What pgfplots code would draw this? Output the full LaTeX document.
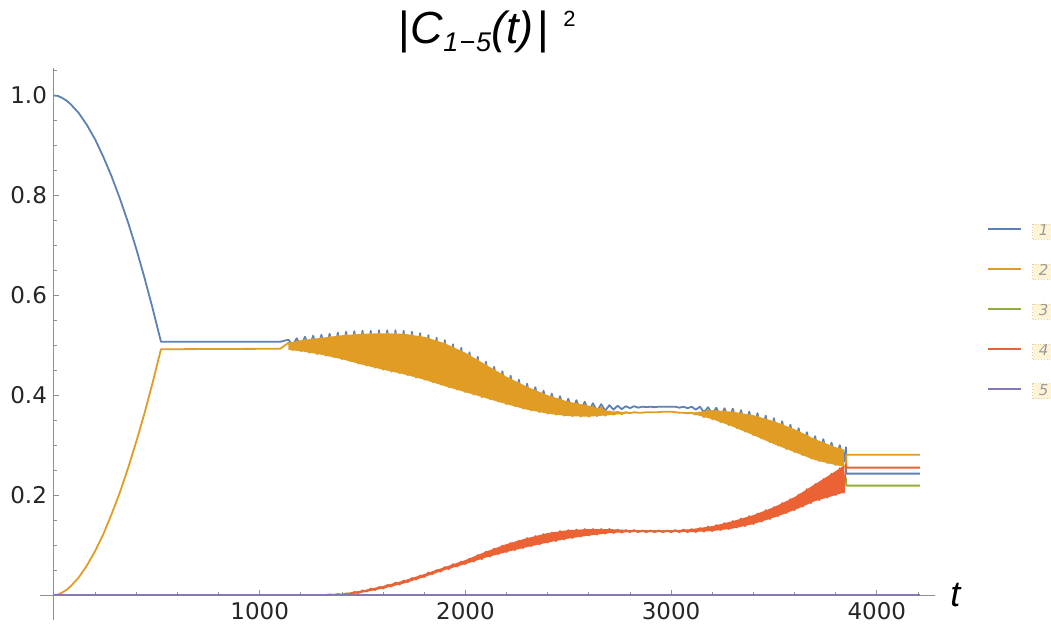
\documentclass[border=0pt]{standalone}
\usepackage{fontspec}
\setmainfont{DejaVu Sans}
\newfontfamily\titlefont{Liberation Sans}
\usepackage{pgfplots}
\pgfplotsset{compat=1.18}
\definecolor{c1}{HTML}{5E81B5}
\definecolor{c2}{HTML}{E19C24}
\definecolor{c3}{HTML}{8FB032}
\definecolor{c4}{HTML}{EB6235}
\definecolor{c5}{HTML}{8778B3}
\definecolor{axgray}{HTML}{8F8F8F}
\definecolor{legfill}{HTML}{FFF5D6}
\definecolor{legdraw}{HTML}{E2D197}
\definecolor{legtext}{HTML}{9A9A9A}
\newcommand\legbox[1]{\tikz[baseline=(b.center)]\node(b)[fill=legfill, draw=legdraw,
  densely dotted, line width=0.4pt, inner sep=0pt, minimum width=11pt, minimum height=7.5pt,
  font=\fontsize{7.5}{7.5}\selectfont\itshape, text=legtext]{#1};}

\begin{document}
\begin{tikzpicture}
\begin{axis}[
  scale only axis, width=447.7pt, height=276pt,
  xmin=-70, xmax=4283, ymin=-0.05, ymax=1.055,
  axis lines=middle,
  axis line style={-, draw=axgray, line width=0.5pt},
  xtick={1000,2000,3000,4000},
  minor xtick={200,400,...,4200},
  ytick={0.2,0.4,0.6,0.8,1.0},
  minor ytick={0.05,0.1,0.15,0.25,0.3,0.35,0.45,0.5,0.55,0.65,0.7,0.75,0.85,0.9,0.95,1.05},
  tick align=inside,
  major tick length=2.5pt, minor tick length=1.5pt,
  tick style={draw=axgray, line width=0.4pt},
  /pgf/number format/assume math mode=true,
  ticklabel style={font=\fontsize{11.5}{13}\selectfont, text=black!85},
  xticklabel style={/pgf/number format/1000 sep={}},
  yticklabel style={/pgf/number format/.cd, fixed, fixed zerofill, precision=1},
  title={\textbar\textit{C}\raisebox{-4pt}{\fontsize{13.5}{14}\selectfont\itshape 1\kern0.5pt−\kern0.5pt5}\textit{(t)}\kern2pt\textbar\kern7pt\raisebox{8.5pt}{\fontsize{11}{11}\selectfont 2}},
  title style={at={(0.5,1)}, anchor=base, yshift=6.5pt, font=\titlefont\fontsize{22.5}{25}\selectfont},
  xlabel={\textit{t}},
  xlabel style={at={(axis description cs:1.0235,0.0236)}, anchor=base, font=\titlefont\fontsize{18}{20}\selectfont},
  legend style={at={(axis description cs:1.0581,0.7183)}, anchor=north west, draw=none, fill=none,
    inner sep=0pt, row sep=14.5pt, nodes={inner sep=0pt}},
  legend cell align=left,
  legend image code/.code={\draw[#1] (0pt,0pt) -- (16.5pt,0pt); \path (21.5pt,0pt);},
  every axis plot/.append style={line width=0.9pt, line join=round, mark=none},
  clip=false,
]
% 1
\addplot[c1] coordinates {
(0,1.000) (20,0.999) (40,0.995) (60,0.990) (80,0.983) (120,0.965) (160,0.941) (200,0.912) (240,0.877) (280,0.838)
(320,0.794) (360,0.746) (400,0.693) (440,0.635) (480,0.573) (520,0.507) (1100,0.507)
(1140,.511) (1160,.500) (1180,.514) (1200,.498) (1220,.517) (1240,.495) (1260,.519) (1280,.492)
(1300,.521) (1320,.489) (1340,.523) (1360,.486) (1380,.525) (1400,.482) (1420,.527) (1440,.478)
(1460,.528) (1480,.473) (1500,.529) (1520,.469) (1540,.529) (1560,.465) (1580,.530) (1600,.461)
(1620,.530) (1640,.457) (1660,.530) (1680,.454) (1700,.529) (1720,.450) (1740,.527) (1760,.445)
(1780,.524) (1800,.441) (1820,.520) (1840,.436) (1860,.515) (1880,.431) (1900,.510) (1920,.426)
(1940,.502) (1960,.421) (1980,.495) (2000,.416) (2020,.486) (2040,.411) (2060,.477) (2080,.406)
(2100,.467) (2120,.402) (2140,.457) (2160,.397) (2180,.448) (2200,.392) (2220,.439) (2240,.388)
(2260,.431) (2280,.383) (2300,.423) (2320,.379) (2340,.416) (2360,.376) (2380,.409) (2400,.373)
(2420,.403) (2440,.371) (2460,.398) (2480,.369) (2500,.393) (2520,.368) (2540,.390) (2560,.367)
(2580,.387) (2600,.367) (2620,.384) (2640,.368) (2660,.382) (2680,.369) (2700,.380) (2720,.371)
(2740,.379) (2760,.372) (2780,.378) (2800,.374) (2820,.378) (2840,.375) (2860,.377) (2880,.376)
(2900,.377) (2920,.376) (2940,.377) (2960,.377) (2980,.377) (3000,.377) (3020,.377) (3040,.375)
(3060,.377) (3080,.374) (3100,.377) (3120,.371) (3140,.377) (3160,.366) (3180,.376) (3200,.362)
(3220,.375) (3240,.356) (3260,.374) (3280,.350) (3300,.373) (3320,.344) (3340,.370) (3360,.337)
(3380,.367) (3400,.330) (3420,.364) (3440,.323) (3460,.359) (3480,.316) (3500,.354) (3520,.309)
(3540,.348) (3560,.302) (3580,.341) (3600,.296) (3620,.334) (3640,.290) (3660,.326) (3680,.283)
(3700,.318) (3720,.278) (3740,.312) (3760,.274) (3780,.305) (3800,.270) (3820,.300) (3840,.267)
(3850,.296) (3852,.243) (4210,.243)
};
\addlegendentry{\legbox{1}}
% band body of 2
\addplot[forget plot, draw=none, fill=c2] coordinates {
(1140,.505) (1200,.510) (1300,.515) (1400,.520) (1500,.523) (1600,.524) (1700,.523) (1800,.517)
(1900,.504) (2000,.485) (2100,.461) (2200,.437) (2300,.417) (2400,.400) (2500,.387) (2600,.379)
(2700,.368) (2800,.366) (2900,.366) (3000,.367) (3100,.365) (3200,.370) (3300,.367) (3400,.360)
(3500,.348) (3600,.332) (3700,.312) (3800,.296) (3840,.291)
(3840,.257) (3800,.260) (3700,.270) (3600,.286) (3500,.302) (3400,.320) (3300,.337) (3200,.352)
(3100,.363) (3000,.367) (2900,.366) (2800,.364) (2700,.360) (2600,.357) (2500,.358) (2400,.363)
(2300,.371) (2200,.382) (2100,.394) (2000,.406) (1900,.418) (1800,.431) (1700,.442) (1600,.451)
(1500,.461) (1400,.472) (1300,.481) (1200,.488) (1140,.491)
} -- cycle;
% 2
\addplot[c2] coordinates {
(0,0.000) (20,0.001) (40,0.005) (60,0.010) (80,0.017) (120,0.035) (160,0.059) (200,0.088) (240,0.122) (280,0.162)
(320,0.205) (360,0.254) (400,0.307) (440,0.364) (480,0.426) (520,0.492) (1100,0.493)
(1140,.505) (1160,.490) (1180,.508) (1200,.488) (1220,.511) (1240,.485) (1260,.513) (1280,.482)
(1300,.515) (1320,.479) (1340,.517) (1360,.476) (1380,.519) (1400,.472) (1420,.521) (1440,.468)
(1460,.522) (1480,.463) (1500,.523) (1520,.459) (1540,.523) (1560,.455) (1580,.524) (1600,.451)
(1620,.524) (1640,.447) (1660,.524) (1680,.444) (1700,.523) (1720,.440) (1740,.521) (1760,.435)
(1780,.518) (1800,.431) (1820,.514) (1840,.426) (1860,.509) (1880,.421) (1900,.504) (1920,.416)
(1940,.496) (1960,.411) (1980,.489) (2000,.406) (2020,.480) (2040,.401) (2060,.471) (2080,.396)
(2100,.461) (2120,.392) (2140,.451) (2160,.387) (2180,.442) (2200,.382) (2220,.433) (2240,.378)
(2260,.425) (2280,.373) (2300,.417) (2320,.369) (2340,.410) (2360,.366) (2380,.403) (2400,.363)
(2420,.397) (2440,.361) (2460,.392) (2480,.359) (2500,.387) (2520,.358) (2540,.384) (2560,.357)
(2580,.381) (2600,.357) (2620,.378) (2640,.358) (2660,.376) (2680,.359) (2700,.368) (2720,.361)
(2740,.367) (2760,.362) (2780,.366) (2800,.364) (2820,.366) (2840,.365) (2860,.365) (2880,.366)
(2900,.366) (2920,.366) (2940,.366) (2960,.367) (2980,.367) (3000,.367) (3020,.366) (3040,.365)
(3060,.365) (3080,.364) (3100,.365) (3120,.361) (3140,.365) (3160,.356) (3180,.370) (3200,.352)
(3220,.369) (3240,.346) (3260,.368) (3280,.340) (3300,.367) (3320,.334) (3340,.364) (3360,.327)
(3380,.361) (3400,.320) (3420,.358) (3440,.313) (3460,.353) (3480,.306) (3500,.348) (3520,.299)
(3540,.342) (3560,.292) (3580,.335) (3600,.286) (3620,.328) (3640,.280) (3660,.320) (3680,.273)
(3700,.312) (3720,.268) (3740,.306) (3760,.264) (3780,.299) (3800,.260) (3820,.294) (3840,.257)
(3850,.256) (3852,.281) (4210,.281)
};
\addlegendentry{\legbox{2}}
% 3
\addplot[c3] coordinates {
(0,0) (1300,0) (1400,.001) (1500,.007) (1600,.016) (1700,.026) (1800,.039) (1900,.053)
(2000,.066) (2100,.081) (2200,.094) (2300,.105) (2400,.115) (2500,.122) (2600,.126) (2700,.128)
(2800,.128) (2900,.128) (3000,.128) (3100,.129) (3200,.133) (3300,.141) (3400,.151) (3500,.166)
(3600,.183) (3700,.205) (3800,.224) (3850,.234) (3852,.219) (4210,.219)
};
\addlegendentry{\legbox{3}}
% band body of 4
\addplot[forget plot, draw=none, fill=c4] coordinates {
(1300,0) (1400,.002) (1500,.009) (1600,.018) (1700,.029) (1800,.042) (1900,.056) (2000,.070)
(2100,.087) (2200,.102) (2300,.114) (2400,.124) (2500,.130) (2600,.132) (2700,.132) (2800,.130)
(2900,.129) (3000,.129) (3100,.132) (3200,.138) (3300,.148) (3400,.160) (3500,.176) (3600,.196)
(3700,.222) (3800,.248) (3840,.259)
(3840,.205) (3800,.200) (3700,.188) (3600,.170) (3500,.155) (3400,.142) (3300,.133) (3200,.128)
(3100,.126) (3000,.126) (2900,.126) (2800,.126) (2700,.124) (2600,.119) (2500,.113) (2400,.105)
(2300,.096) (2200,.086) (2100,.075) (2000,.062) (1900,.050) (1800,.036) (1700,.023) (1600,.013)
(1500,.005) (1400,0)
} -- cycle;
% 4
\addplot[c4] coordinates {
(0,0) (1300,0) (1320,0) (1340,.001) (1360,0) (1380,.002) (1400,0) (1420,.003) (1440,.002)
(1460,.006) (1480,.004) (1500,.009) (1520,.007) (1540,.013) (1560,.010) (1580,.016) (1600,.013)
(1620,.020) (1640,.017) (1660,.025) (1680,.021) (1700,.029) (1720,.026) (1740,.034) (1760,.031)
(1780,.039) (1800,.036) (1820,.045) (1840,.042) (1860,.050) (1880,.047) (1900,.056) (1920,.052)
(1940,.062) (1960,.057) (1980,.067) (2000,.062) (2020,.073) (2040,.067) (2060,.080) (2080,.072)
(2100,.087) (2120,.077) (2140,.093) (2160,.082) (2180,.099) (2200,.086) (2220,.104) (2240,.090)
(2260,.109) (2280,.094) (2300,.114) (2320,.098) (2340,.118) (2360,.101) (2380,.122) (2400,.105)
(2420,.125) (2440,.108) (2460,.128) (2480,.111) (2500,.130) (2520,.114) (2540,.131) (2560,.117)
(2580,.132) (2600,.119) (2620,.132) (2640,.121) (2660,.132) (2680,.123) (2700,.132) (2720,.124)
(2740,.131) (2760,.125) (2780,.130) (2800,.126) (2820,.130) (2840,.126) (2860,.129) (2880,.126)
(2900,.129) (2920,.126) (2940,.129) (2960,.126) (2980,.129) (3000,.126) (3020,.130) (3040,.126)
(3060,.131) (3080,.126) (3100,.132) (3120,.126) (3140,.134) (3160,.127) (3180,.137) (3200,.128)
(3220,.140) (3240,.130) (3260,.144) (3280,.132) (3300,.148) (3320,.135) (3340,.153) (3360,.138)
(3380,.158) (3400,.142) (3420,.163) (3440,.147) (3460,.170) (3480,.152) (3500,.176) (3520,.158)
(3540,.184) (3560,.164) (3580,.192) (3600,.170) (3620,.201) (3640,.177) (3660,.212) (3680,.184)
(3700,.222) (3720,.190) (3740,.232) (3760,.195) (3780,.243) (3800,.200) (3820,.254) (3840,.205)
(3850,.262) (3852,.255) (4210,.255)
};
\addlegendentry{\legbox{4}}
% 5
\addplot[c5] coordinates {(0,0) (4210,0)};
\addlegendentry{\legbox{5}}
\end{axis}
\pgfresetboundingbox
\useasboundingbox (-19.8pt,-1.5pt) rectangle (505.7pt,310pt);
\end{tikzpicture}
\end{document}
